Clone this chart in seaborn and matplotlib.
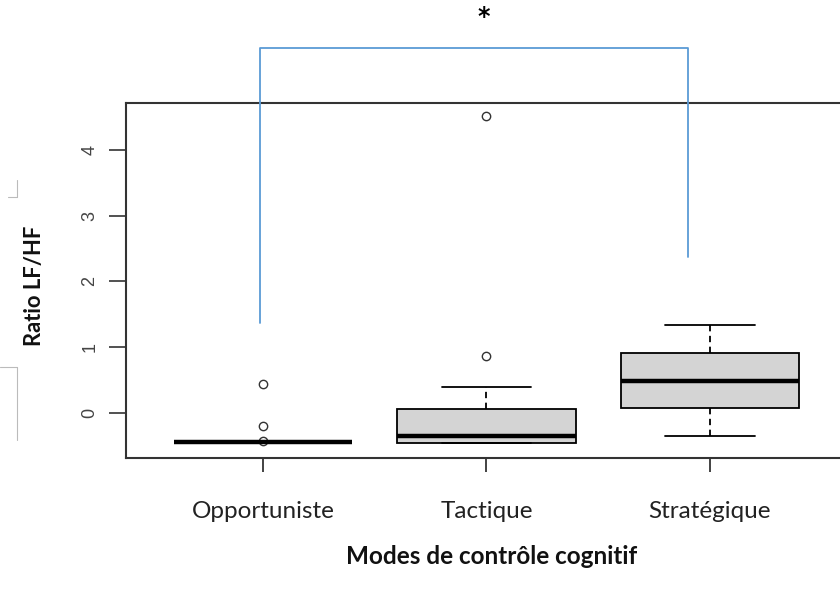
import matplotlib
matplotlib.use("Agg")
import matplotlib.pyplot as plt
import seaborn as sns
import pandas as pd
import numpy as np

# ---- data ----
categories = ["Opportuniste", "Tactique", "Stratégique"]
opportuniste = [-0.44] * 10 + [-0.43, -0.20, 0.44]
tactique = [-0.46, -0.46, -0.46, -0.46, -0.35, -0.35, -0.35, 0.06, 0.06, 0.06, 0.40, 0.87, 4.52]
strategique = [-0.35, 0.08, 0.08, 0.49, 0.49, 0.49, 0.91, 0.91, 1.34]
y_ticks = [0, 1, 2, 3, 4]
x_label = "Modes de contrôle cognitif"
y_label = "Ratio LF/HF"
signif = "*"
bracket_x = [-0.013, -0.013, 1.9, 1.9]
bracket_y = [1.37, 5.55, 5.55, 2.37]

df = pd.DataFrame({
    "mode": [categories[0]] * len(opportuniste) + [categories[1]] * len(tactique) + [categories[2]] * len(strategique),
    "ratio": opportuniste + tactique + strategique,
})

sns.set_theme(style="white")
plt.rcParams["font.family"] = ["Lato", "DejaVu Sans"]

fig = plt.figure(figsize=(8.4, 5.94), dpi=100)
ax = fig.add_axes([126 / 840, 0.229, 1 - 126 / 840, 0.5976])

sns.boxplot(
    data=df, x="mode", y="ratio", order=categories, ax=ax,
    width=0.8, color="#d4d4d4", linecolor="black", linewidth=1.3,
    whis=1.5,
    boxprops=dict(edgecolor="black", linewidth=1.3),
    medianprops=dict(color="black", linewidth=3.2),
    whiskerprops=dict(color="black", linewidth=1.3, linestyle=(0, (3.5, 2.5))),
    capprops=dict(color="black", linewidth=1.3),
    flierprops=dict(marker="o", markersize=6, markerfacecolor="none",
                    markeredgecolor="#333333", markeredgewidth=1.0),
)

ax.set_xlim(-0.613, 2.582)
ax.set_ylim(-0.685, 4.715)
ax.set_yticks(y_ticks)
ax.set_yticklabels([str(t) for t in y_ticks], rotation=90, va="center",
                   fontfamily="Liberation Sans", fontsize=13, color="#444444")
ax.set_xticks(range(len(categories)))
ax.set_xticklabels(categories, fontsize=17.5, color="#222222")
ax.tick_params(axis="x", direction="out", length=10, width=1.2, color="#222222", pad=21, bottom=True)
ax.tick_params(axis="y", direction="out", length=12, width=1.2, color="#333333", pad=8, left=True)
ax.set_xlabel("")
ax.set_ylabel("")

for side in ["left", "top", "bottom"]:
    ax.spines[side].set_visible(True)
    ax.spines[side].set_color("#333333")
    ax.spines[side].set_linewidth(1.5)
ax.spines["right"].set_visible(False)

# significance bracket
ax.plot(bracket_x, bracket_y, color="#5b9bd5", linewidth=1.3, clip_on=False, zorder=5)
ax.text(0.99, 6.02, signif, ha="center", va="center", fontsize=17, fontfamily="DejaVu Sans",
        fontweight="bold", color="black", clip_on=False)

# axis titles
fig.text(492 / 840, 1 - 557 / 594, x_label, ha="center", va="center",
         fontsize=17.5, fontweight="bold", color="#111111")
fig.text(35 / 840, 1 - 286 / 594, y_label, ha="center", va="center", rotation=90,
         fontsize=15.8, fontweight="bold", color="#111111")

# faint text-box edges around the y label
for seg in [([8, 17], [197, 197]), ([17, 17], [180, 197]), ([0, 17], [367, 367]), ([17, 17], [367, 440])]:
    fig.add_artist(plt.Line2D([s / 840 for s in seg[0]], [1 - s / 594 for s in seg[1]],
                              color="#bbbbbb", linewidth=0.8))

fig.savefig("out.png", dpi=100)
